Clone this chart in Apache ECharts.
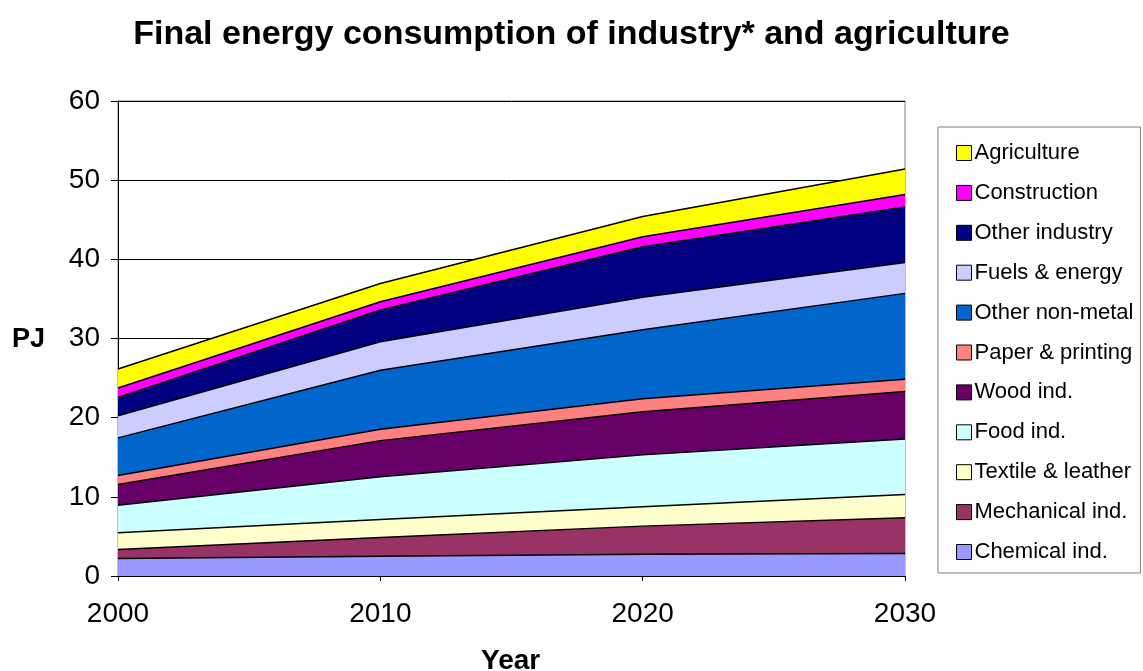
<!DOCTYPE html>
<html>
<head>
<meta charset="utf-8">
<title>Final energy consumption of industry* and agriculture</title>
<script src="https://cdn.jsdelivr.net/npm/echarts@6/dist/echarts.min.js"></script>
<style>
  html, body { margin: 0; padding: 0; background: #ffffff; }
  #chart { width: 1143px; height: 671px; }
</style>
</head>
<body>
<div id="chart"></div>
<script>
// Years on the horizontal axis
const years = ['2000', '2010', '2020', '2030'];

// Final energy consumption per sector, PJ (stacked bottom to top)
const chemical   = [2.2, 2.5, 2.75, 2.85];
const mechanical = [1.15, 2.35, 3.55, 4.5];
const textile    = [2.1, 2.3, 2.45, 2.95];
const food       = [3.5, 5.4, 6.55, 7.0];
const wood       = [2.6, 4.55, 5.45, 6.0];
const paper      = [1.15, 1.45, 1.65, 1.55];
const nonMetal   = [4.75, 7.45, 8.7, 10.85];
const fuels      = [2.8, 3.6, 4.1, 3.9];
const otherInd   = [2.3, 4.0, 6.4, 7.0];
const construction = [1.2, 1.05, 1.25, 1.6];
const agriculture  = [2.4, 2.3, 2.55, 3.2];

const FONT = "'Liberation Sans', Arial, Helvetica, sans-serif";

const layers = [
  { name: 'Chemical ind.',     data: chemical,     color: '#9999FF' },
  { name: 'Mechanical ind.',   data: mechanical,   color: '#993366' },
  { name: 'Textile & leather', data: textile,      color: '#FFFFCC' },
  { name: 'Food ind.',         data: food,         color: '#CCFFFF' },
  { name: 'Wood ind.',         data: wood,         color: '#660066' },
  { name: 'Paper & printing',  data: paper,        color: '#FF8080' },
  { name: 'Other non-metal',   data: nonMetal,     color: '#0066CC' },
  { name: 'Fuels & energy',    data: fuels,        color: '#CCCCFF' },
  { name: 'Other industry',    data: otherInd,     color: '#000080' },
  { name: 'Construction',      data: construction, color: '#FF00FF' },
  { name: 'Agriculture',       data: agriculture,  color: '#FFFF00' }
];

const chart = echarts.init(document.getElementById('chart'), null, { renderer: 'canvas' });

chart.setOption({
  animation: false,
  backgroundColor: '#ffffff',
  title: {
    text: 'Final energy consumption of industry* and agriculture',
    left: 'center',
    top: 13,
    textStyle: { fontFamily: FONT, fontSize: 34, fontWeight: 'bold', color: '#000' }
  },
  grid: {
    left: 118, right: 238, top: 101, bottom: 95,
    show: true, borderColor: '#808080', borderWidth: 1, backgroundColor: '#ffffff'
  },
  legend: {
    orient: 'vertical',
    left: 938,
    top: 127,
    data: layers.map(l => l.name).reverse(),
    icon: 'rect',
    itemWidth: 15,
    itemHeight: 15,
    itemGap: 15.9,
    padding: [14, 7, 9, 18],
    backgroundColor: '#ffffff',
    borderColor: '#808080',
    borderWidth: 1,
    borderRadius: 0,
    selectedMode: false,
    itemStyle: { borderColor: '#000', borderWidth: 1 },
    textStyle: { fontFamily: FONT, fontSize: 22, color: '#000', padding: [2, 0, 0, -2], lineHeight: 22 }
  },
  xAxis: {
    type: 'category',
    data: years,
    boundaryGap: false,
    axisLine: { lineStyle: { color: '#000', width: 1 } },
    axisTick: { show: true, length: 5, lineStyle: { color: '#000' } },
    axisLabel: { fontFamily: FONT, fontSize: 28, color: '#000', margin: 24 },
    splitLine: { show: false }
  },
  yAxis: {
    type: 'value',
    min: 0, max: 60, interval: 10,
    axisLine: { show: true, lineStyle: { color: '#000', width: 1 } },
    axisTick: { show: true, length: 7, lineStyle: { color: '#000' } },
    axisLabel: { fontFamily: FONT, fontSize: 28, color: '#000', margin: 18 },
    splitLine: { show: true, lineStyle: { color: '#000', width: 1 } }
  },
  graphic: [
    { type: 'text', left: 12, top: 326,
      style: { text: 'PJ', font: "bold 27px 'Liberation Sans', Arial, sans-serif", fill: '#000' } },
    { type: 'text', left: 481, top: 647,
      style: { text: 'Year', font: "bold 28px 'Liberation Sans', Arial, sans-serif", fill: '#000' } }
  ],
  series: layers.map(l => ({
    name: l.name,
    type: 'line',
    stack: 'total',
    data: l.data,
    symbol: 'none',
    smooth: false,
    color: l.color,
    lineStyle: { color: '#000', width: 1.5 },
    areaStyle: { color: l.color, opacity: 1 },
    itemStyle: { color: l.color, borderColor: '#000', borderWidth: 1 },
    emphasis: { disabled: true }
  }))
});
</script>
</body>
</html>
